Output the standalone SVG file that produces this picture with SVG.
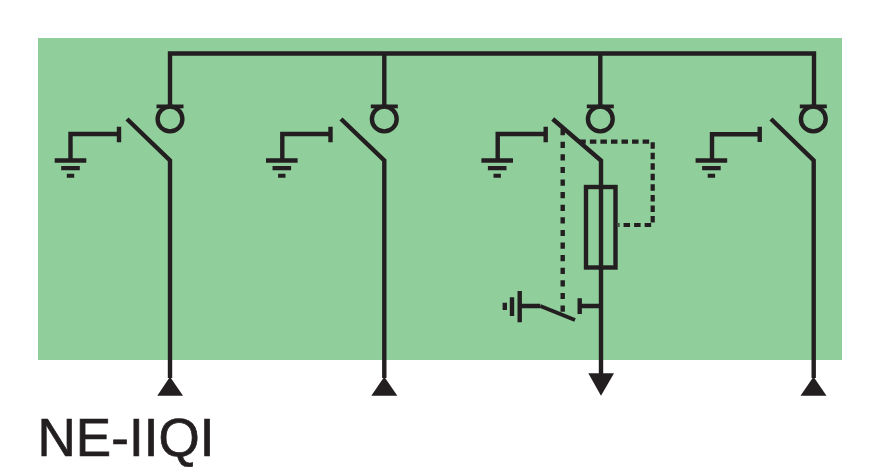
<svg xmlns="http://www.w3.org/2000/svg" width="885" height="475" viewBox="0 0 885 475">
<style>
.l{fill:none;stroke:#231f20;stroke-width:4.4;stroke-linejoin:miter}
.b{fill:none;stroke:#231f20;stroke-width:4}
.d1{fill:none;stroke:#231f20;stroke-width:4.4;stroke-dasharray:6.2 6.4}
.d2{fill:none;stroke:#231f20;stroke-width:4.2;stroke-dasharray:6.5 4.05}
.f{fill:#231f20}
.t{font-family:"Liberation Sans",Arial,sans-serif;font-size:53px;fill:#231f20;stroke:#231f20;stroke-width:.7}
</style>
<defs>
<g id="earth"><path class="f" d="M-15.8,-2.2H15.8V2.2H-15.8ZM-9.3,5.5H9.3V9.8H-9.3ZM-3.7,13.2H3.7V17.2H-3.7Z"/></g>
<g id="bushing"><path class="f" d="M-13.5,-14.5H13.5V-10.7H-13.5Z"/><circle class="l" cx="0" cy="0" r="12.4"/></g>
</defs>
<rect id="panel" x="38" y="38" width="804" height="322" fill="#90ce9c"/>
<g id="connectors">
<path class="l" d="M170,106V53.5H814V106M384.3,53.5V106M600.3,53.5V106"/>
<path class="l" d="M127,119L170,160.5V378"/>
<path class="l" d="M341,119L384.3,160.5V378"/>
<path class="l" d="M552.7,119L601,160.5V376"/>
<path class="l" d="M771,119L813.7,160.5V378"/>
</g>
<g id="bay1">
<use href="#bushing" x="170" y="119"/>
<path class="l" d="M70.5,160V134H119M119,126.7V142.2"/>
<use href="#earth" x="70.5" y="160.5"/>
<path class="f" d="M170,376.7L183,395.7H157.3Z"/>
</g>
<g id="bay2">
<use href="#bushing" x="384.3" y="119"/>
<path class="l" d="M282.3,160V134H330.5M330.5,126.7V142.2"/>
<use href="#earth" x="281.8" y="160.5"/>
<path class="f" d="M384.3,376.7L397.3,395.7H371.3Z"/>
</g>
<g id="bay3">
<path class="d1" d="M562.7,129.1V312"/>
<path class="d2" d="M579.3,141.7H652.7V225H618.3"/>
<use href="#bushing" x="600.3" y="119"/>
<path class="l" d="M497.7,160V134H545.7M545.7,126.7V142.3"/>
<use href="#earth" x="497.2" y="160.5"/>
<rect id="fuse" class="l" x="586" y="187" width="29.5" height="80.5"/>
<path class="l" d="M579.7,298.3V314M579.7,306H601"/>
<path class="l" d="M519.7,291V322.3M512,297.3V316M504.8,302.7V310M519.7,306H540.3"/>
<path class="b" d="M540.3,306L575,320"/>
<path class="f" d="M588.3,373.3H614L601,395.7Z"/>
</g>
<g id="bay4">
<use href="#bushing" x="813.3" y="119"/>
<path class="l" d="M712,160V134.3H759.7M759.7,126.7V142"/>
<use href="#earth" x="711.4" y="160.5"/>
<path class="f" d="M813.5,376.7L826.5,395.7H800.5Z"/>
</g>
<text id="title" class="t" x="37.5" y="455.7" textLength="177" lengthAdjust="spacing">NE-IIQI</text>
</svg>
